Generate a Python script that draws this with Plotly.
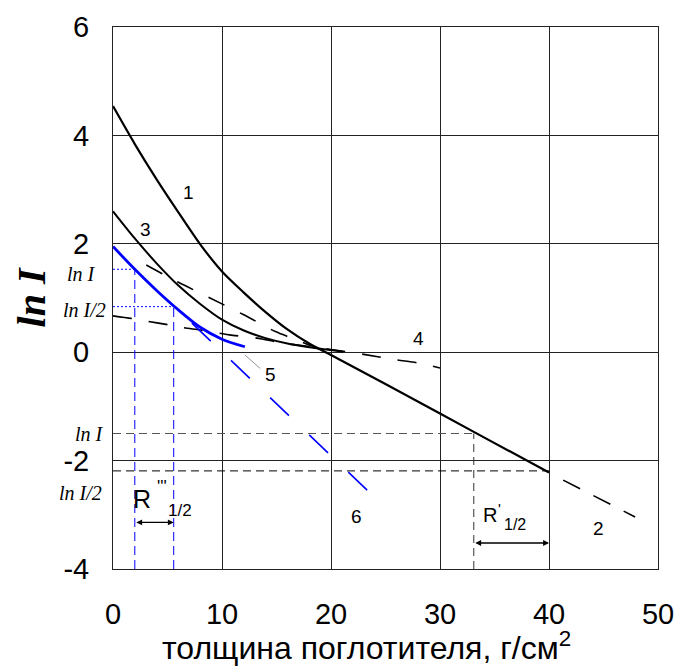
import plotly.graph_objects as go

# ---- data ----
# curve 1 (solid, continues into the common straight tail up to 40)
x1 = [0, 2, 4, 6, 8, 10, 12, 14, 16, 18, 20, 30, 33.1, 40]
y1 = [4.54, 3.84, 3.19, 2.58, 1.99, 1.49, 1.1, 0.74, 0.42, 0.16, -0.05, -1.13, -1.47, -2.22]
# curve 3 (solid)
x3 = [0, 2, 4, 6, 8, 10, 12, 14, 16, 18, 20, 21.1]
y3 = [2.6, 2.1, 1.64, 1.23, 0.89, 0.6, 0.4, 0.26, 0.16, 0.09, 0.04, 0.01]
# curve 5 (blue solid)
x5 = [0, 2, 4, 6, 8, 10, 12.1]
y5 = [1.95, 1.53, 1.14, 0.78, 0.46, 0.24, 0.1]
# curve 4 (black dashed)
x4 = [0, 1.74, 3.27, 5.1, 6.5, 8.0, 9.8, 10.7, 13.2, 15.6, 20, 23, 26, 28, 30]
y4 = [0.67, 0.62, 0.566, 0.505, 0.45, 0.41, 0.35, 0.32, 0.26, 0.17, 0.05, -0.04, -0.14, -0.2, -0.29]
# curve 2 (black dashed, head and tail)
x2 = [3.05, 6.0, 8.9, 12.0, 14.9, 16.4, 19]
y2 = [1.61, 1.29, 1.0, 0.69, 0.38, 0.26, 0.05]
x2_tail = [41.3, 47.9]
y2_tail = [-2.36, -3.04]
# line 6 (blue long dashes)
x6 = [7.24, 23.5]
y6 = [0.535, -2.58]
# leader for label 5
x5_lead = [12.1, 13.5]
y5_lead = [-0.05, -0.3]

# reference levels
lnI_hi, lnI2_hi = 1.53, 0.84
xR3_a, xR3_b = 2.0, 5.57
lnI_lo, lnI2_lo = -1.5, -2.19
xR1_a, xR1_b = 33.1, 40.0
y_arrow_R3 = -3.14
y_arrow_R1 = -3.52
y_min, y_max = -4, 6
x_min, x_max = 0, 50

x_ticks = [0, 10, 20, 30, 40, 50]
x_ticktext = ["0", "10", "20", "30", "40", "50"]
y_ticks = [-4, -2, 0, 2, 4, 6]
y_ticktext = ["-4", "-2", "0", "2", "4", "6"]

curve_labels = ["1", "3", "4", "5", "6", "2"]
curve_label_x = [6.94, 3.0, 28.05, 14.47, 22.36, 44.5]
curve_label_y = [2.95, 2.26, 0.25, -0.42, -3.04, -3.25]

fig = go.Figure()

def add(x, y, color="black", width=2, dash="solid", shape="spline"):
    line = dict(color=color, width=width, dash=dash, shape=shape)
    if shape == "spline":
        line["smoothing"] = 0.8
    fig.add_trace(go.Scatter(x=x, y=y, mode="lines", line=line,
                             hoverinfo="skip", showlegend=False))

# reference dashed / dotted lines
add([x_min, xR3_a], [lnI_hi, lnI_hi], color="blue", width=1, dash="2px,2px", shape="linear")
add([x_min, xR3_b], [lnI2_hi, lnI2_hi], color="blue", width=1, dash="2px,2px", shape="linear")
add([xR3_a, xR3_a], [y_min, lnI_hi], color="blue", width=1, dash="9px,5px", shape="linear")
add([xR3_b, xR3_b], [y_min, lnI2_hi], color="blue", width=1, dash="9px,5px", shape="linear")
add([x_min, xR1_a], [lnI_lo, lnI_lo], color="#555555", width=1, dash="8px,5px", shape="linear")
add([x_min, xR1_b], [lnI2_lo, lnI2_lo], color="black", width=1, dash="8px,5px", shape="linear")
add([xR1_a, xR1_a], [y_min, lnI_lo], color="#333333", width=1, dash="8px,5px", shape="linear")

# curves
add(x1, y1, width=2.2)
add(x3, y3, width=2)
add(x4, y4, width=1.6, dash="19px,17px")
add(x2, y2, width=1.6, dash="18px,17px")
add(x2_tail, y2_tail, width=1.6, dash="19px,15px", shape="linear")
add(x5, y5, color="blue", width=2.8)
add(x6, y6, color="blue", width=1.6, dash="26px,28px", shape="linear")
add(x5_lead, y5_lead, color="#777777", width=0.8, shape="linear")

annotations = []
for t, xx, yy in zip(curve_labels, curve_label_x, curve_label_y):
    annotations.append(dict(x=xx, y=yy, text=t, showarrow=False,
                            font=dict(family="Liberation Sans", size=19, color="black")))

# double arrows
for xa, xb, ya in [(xR3_a, xR3_b, y_arrow_R3), (xR1_a, xR1_b, y_arrow_R1)]:
    annotations.append(dict(x=xb, y=ya, ax=xa, ay=ya, xref="x", yref="y",
                            axref="x", ayref="y", text="", showarrow=True,
                            arrowhead=2, arrowsize=0.9, arrowwidth=1.3,
                            arrowside="end+start", arrowcolor="black",
                            standoff=0, startstandoff=0))

sans = "Liberation Sans"
annotations += [
    dict(x=2.63, y=-2.71, text="R", showarrow=False, font=dict(family=sans, size=25, color="black")),
    dict(x=4.48, y=-2.47, text="'''", showarrow=False, font=dict(family=sans, size=17, color="black")),
    dict(x=6.12, y=-2.92, text="1/2", showarrow=False, font=dict(family=sans, size=17, color="black")),
    dict(x=34.56, y=-3.0, text="R", showarrow=False, font=dict(family=sans, size=20, color="black")),
    dict(x=35.5, y=-2.88, text="'", showarrow=False, font=dict(family=sans, size=15, color="black")),
    dict(x=36.85, y=-3.17, text="1/2", showarrow=False, font=dict(family=sans, size=16, color="black")),
]

# ln I labels on the left
serif = dict(family="Liberation Serif", size=20, color="black")
for txt, yy, xr in [("ln I", 1.45, -0.028), ("ln I/2", 0.78, -0.010),
                    ("ln I", -1.51, -0.013), ("ln I/2", -2.59, -0.017)]:
    annotations.append(dict(xref="paper", yref="y", x=xr, y=yy, xanchor="right",
                            text="<i>" + txt + "</i>", showarrow=False, font=serif))

# x title as annotation (kept inside the page)
annotations.append(dict(xref="paper", yref="paper", x=0.466, y=-0.1827,
                        xanchor="center", yanchor="bottom",
                        text="толщина поглотителя, г/см<sup>2</sup>", showarrow=False,
                        font=dict(family=sans, size=32, color="black")))

axis_common = dict(showgrid=True, gridcolor="#222222", gridwidth=1, zeroline=False,
                   showline=True, linecolor="#222222", linewidth=1, mirror=True,
                   ticks="", automargin=False,
                   tickfont=dict(family=sans, size=29, color="black"))

fig.update_layout(
    width=677, height=669,
    margin=dict(l=113, r=19, t=27, b=100, autoexpand=False),
    paper_bgcolor="white", plot_bgcolor="white",
    font=dict(color="black"),
    xaxis=dict(range=[x_min, x_max], tickvals=x_ticks, ticktext=x_ticktext,
               ticklabelstandoff=19, **axis_common),
    yaxis=dict(range=[y_min, y_max], tickvals=y_ticks, ticktext=y_ticktext,
               ticklabelstandoff=17,
               title=dict(text="<b><i>ln I</i></b>", standoff=5,
                          font=dict(family="Liberation Serif", size=40, color="black")),
               **axis_common),
    annotations=annotations,
    showlegend=False,
)

fig.write_html("out.html", config={"displayModeBar": False},
               post_script="document.body.style.margin='0';")
